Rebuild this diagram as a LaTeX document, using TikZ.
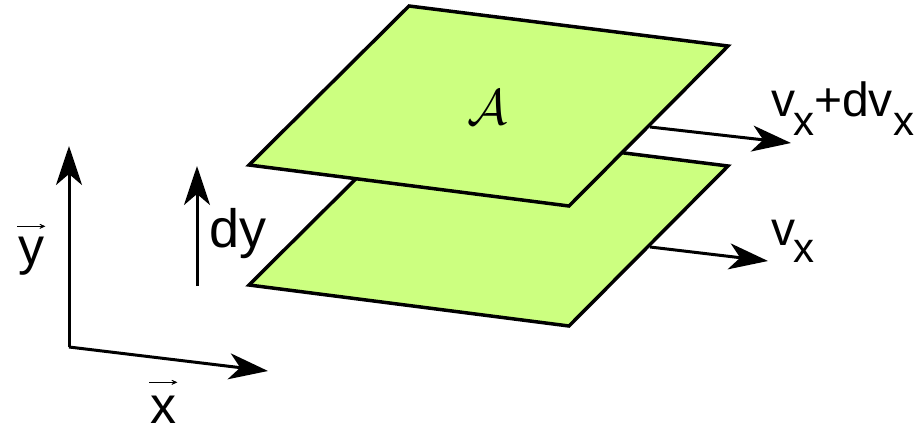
\documentclass[tikz,border=0pt]{standalone}
\usepackage{fontspec}
\setmainfont{Liberation Sans}
\usetikzlibrary{arrows.meta}
\definecolor{platefill}{RGB}{204,255,128}
\begin{document}
\begin{tikzpicture}[x=1pt,y=-1pt,
  plate/.style={draw=black, line width=3.5pt, fill=platefill, line join=miter},
  bigarrow/.style={line width=3pt, -{Stealth[length=39pt,width=26pt,inset=11pt]}},
  accent/.style={line width=1.3pt, -{Stealth[length=10pt,width=9pt,inset=7pt]}},
  lbl/.style={font=\fontsize{52}{60}\selectfont, inner sep=0pt, anchor=base west},
  vlbl/.style={font=\fontsize{48}{56}\selectfont, inner sep=0pt, anchor=base west}]
\useasboundingbox (0,0) rectangle (919,431);
% velocity arrows (behind the plates)
\coordinate (us) at (650,127);
\coordinate (ue) at (791,143);
\coordinate (ls) at (650,247);
\coordinate (le) at (768,261);
\draw[bigarrow] (us) -- (ue);
\draw[bigarrow] (ls) -- (le);
% lower plate
\draw[plate] (409,126) -- (728,166) -- (569,326) -- (249,285) -- cycle;
% upper plate
\draw[plate] (409,6) -- (728,46) -- (569,206) -- (249,165) -- cycle;
\node[inner sep=0pt] (alab) at (487,107) {\scalebox{5}{$\mathcal{A}$}};
% axes
\coordinate (o) at (69,347);
\coordinate (ytip) at (69,146);
\coordinate (xtip) at (268,371);
\draw[bigarrow] (o) -- (ytip);
\draw[bigarrow] (o) -- (xtip);
% dy arrow
\coordinate (dyb) at (197,286);
\coordinate (dyt) at (197,166);
\draw[bigarrow] (dyb) -- (dyt);
% labels
\node[lbl] (ylab) at (18,264) {y};
\draw[accent] ([yshift=10pt,xshift=-1pt]ylab.north west) -- ([yshift=10pt,xshift=1pt]ylab.north east);
\node[lbl] (xlab) at (150,423) {x};
\draw[accent] ([yshift=13pt,xshift=-1pt]xlab.north west) -- ([yshift=13pt,xshift=1pt]xlab.north east);
\node[lbl, font=\fontsize{54}{60}\selectfont] (dylab) at (209,247) {dy};
\node[vlbl] (v2lab) at (771,116) {v\kern-2pt\raisebox{-19pt}{\fontsize{42}{48}\selectfont x}+dv\kern1pt\raisebox{-19pt}{\fontsize{42}{48}\selectfont x}};
\node[vlbl] (v1lab) at (771,245) {v\kern-2pt\raisebox{-17pt}{\fontsize{42}{48}\selectfont x}};
\end{tikzpicture}
\end{document}
